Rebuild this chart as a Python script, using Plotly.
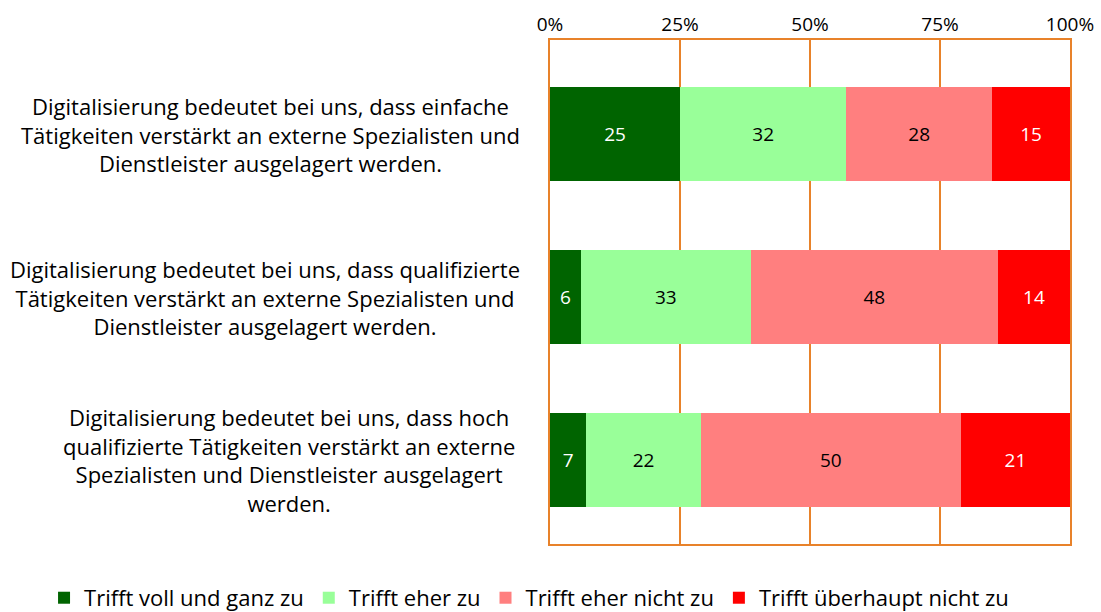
import plotly.graph_objects as go

categories = [
    "Digitalisierung bedeutet bei uns, dass einfache<br>Tätigkeiten verstärkt an externe Spezialisten und<br>Dienstleister ausgelagert werden.",
    "Digitalisierung bedeutet bei uns, dass qualifizierte<br>Tätigkeiten verstärkt an externe Spezialisten und<br>Dienstleister ausgelagert werden.",
    "Digitalisierung bedeutet bei uns, dass hoch<br>qualifizierte Tätigkeiten verstärkt an externe<br>Spezialisten und Dienstleister ausgelagert<br>werden.",
]
series_names = ["Trifft voll und ganz zu", "Trifft eher zu", "Trifft eher nicht zu", "Trifft überhaupt nicht zu"]
voll = [25, 6, 7]
eher = [32, 33, 22]
eher_nicht = [28, 48, 50]
ueberhaupt_nicht = [15, 14, 21]
tick_vals = [0, 25, 50, 75, 100]
tick_text = ["0%", "25%", "50%", "75%", "100%"]

series_values = [voll, eher, eher_nicht, ueberhaupt_nicht]
colors = ["#006400", "#99FF99", "#FF7F7F", "#FF0000"]
text_colors = ["white", "black", "black", "white"]
FONT = "Open Sans"
orange = "#E8822A"

ypos = list(range(len(categories)))

fig = go.Figure()
for name, vals, c, tc in zip(series_names, series_values, colors, text_colors):
    fig.add_trace(go.Bar(
        name=name, y=ypos, x=vals, orientation="h",
        marker=dict(color=c, line=dict(width=0)),
        text=vals, texttemplate="%{text}", textposition="inside",
        insidetextanchor="middle", constraintext="none",
        textfont=dict(color=tc, size=19, family=FONT),
        insidetextfont=dict(color=tc, size=19, family=FONT),
        width=0.577,
    ))

label_x = [-0.537, -0.548, -0.502]
for i, (cat, lx) in enumerate(zip(categories, label_x)):
    fig.add_annotation(
        x=lx, xref="paper", y=i, yref="y", text=cat, showarrow=False,
        align="center", xanchor="center", yanchor="middle",
        font=dict(size=22, family=FONT, color="black"),
    )

fig.update_layout(
    barmode="stack", barnorm="percent",
    width=1101, height=612,
    margin=dict(l=550, r=31, t=40, b=68, autoexpand=False),
    plot_bgcolor="white", paper_bgcolor="white",
    font=dict(family=FONT, size=18, color="black"),
    showlegend=True,
    legend=dict(orientation="h", x=-0.973, xanchor="left",
                y=-0.107, yanchor="middle",
                font=dict(size=22, family=FONT),
                bgcolor="rgba(0,0,0,0)",
                traceorder="normal"),
)
fig.update_xaxes(
    side="top", range=[0, 100], tickvals=tick_vals, ticktext=tick_text,
    showgrid=True, gridcolor=orange, gridwidth=1.5,
    showline=True, linecolor=orange, linewidth=1.5, mirror=True,
    ticks="", zeroline=False, tickfont=dict(size=19, family=FONT),
)
fig.update_yaxes(
    range=[2.515, -0.577], showticklabels=False, showgrid=False,
    showline=True, linecolor=orange, linewidth=1.5, mirror=True,
    zeroline=False, ticks="",
)

fig.write_html("out.html")
